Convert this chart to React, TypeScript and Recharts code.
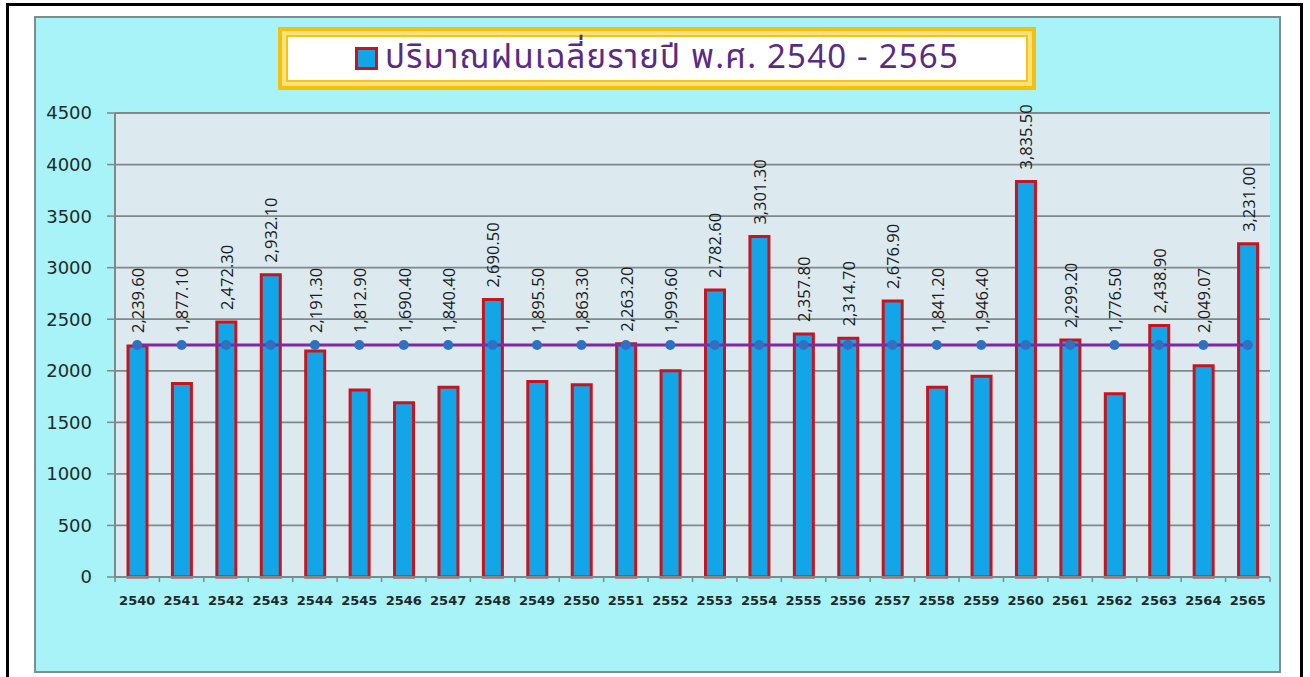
import React from 'react';
import { ComposedChart, Bar, Line, XAxis, YAxis, CartesianGrid, LabelList, Legend } from 'recharts';

const years = ['2540','2541','2542','2543','2544','2545','2546','2547','2548','2549','2550','2551','2552','2553','2554','2555','2556','2557','2558','2559','2560','2561','2562','2563','2564','2565'];
const rainfall = [2239.6,1877.1,2472.3,2932.1,2191.3,1812.9,1690.4,1840.4,2690.5,1895.5,1863.3,2263.2,1999.6,2782.6,3301.3,2357.8,2314.7,2676.9,1841.2,1946.4,3835.5,2299.2,1776.5,2438.9,2049.07,3231.0];
const averageLine = [2250,2250,2250,2250,2250,2250,2250,2250,2250,2250,2250,2250,2250,2250,2250,2250,2250,2250,2250,2250,2250,2250,2250,2250,2250,2250];
const yTicks = [0,500,1000,1500,2000,2500,3000,3500,4000,4500];
const legendTitle = 'ปริมาณฝนเฉลี่ยรายปี พ.ศ. 2540 - 2565';

const data = years.map((y, i) => ({ year: y, value: rainfall[i], avg: averageLine[i] }));

const BAR_FILL = '#12a6e8';
const BAR_STROKE = '#c8141e';
const GRID = '#7d898b';

const fmt = (v: number) => v.toLocaleString('en-US', { minimumFractionDigits: 2, maximumFractionDigits: 2 });

const ValueLabel = (props: any) => {
  const { x, y, width, height, value, index } = props;
  const cx = x + width / 2;
  const base = y + height;
  const perVal = height / value;
  const avgY = base - averageLine[index] * perVal;
  const top = Math.min(y, avgY) - 12;
  return (
    <text x={cx} y={top} transform={`rotate(-90 ${cx} ${top})`} textAnchor="start" dominantBaseline="central"
      fontSize={16.5} fontFamily="'Open Sans', 'Noto Sans', sans-serif" fill="#1b1b1b">
      {fmt(value)}
    </text>
  );
};

const XTick = (props: any) => {
  const { x, y, payload, index } = props;
  const off = payload.offset || 0;
  return (
    <g>
      <line x1={x - off} y1={y} x2={x - off} y2={y + 5} stroke={GRID} strokeWidth={1.5} />
      {index === years.length - 1 && (
        <line x1={x + off} y1={y} x2={x + off} y2={y + 5} stroke={GRID} strokeWidth={1.5} />
      )}
      <text x={x} y={y + 28} textAnchor="middle" fontSize={13} fontWeight={600}
        fontFamily="'DejaVu Sans', Verdana, sans-serif" fill="#1f2a2a">{payload.value}</text>
    </g>
  );
};

const LegendBox = () => (
  <div style={{ width: 758, height: 63, boxSizing: 'border-box', background: '#f2c00f', padding: 4 }}>
    <div style={{ width: '100%', height: '100%', boxSizing: 'border-box', background: '#fde27a', padding: 4 }}>
      <div style={{ width: '100%', height: '100%', boxSizing: 'border-box', background: '#f3c51c', padding: 2 }}>
        <div style={{ width: '100%', height: '100%', background: '#ffffff', display: 'flex', alignItems: 'center', justifyContent: 'center' }}>
          <div style={{ width: 17, height: 17, background: BAR_FILL, border: `3px solid ${BAR_STROKE}`, marginRight: 7 }} />
          <span style={{ fontSize: 33, letterSpacing: 1.2, color: '#5a2a84', fontFamily: "Tahoma, 'Noto Sans Thai', 'Noto Sans', sans-serif", lineHeight: 1 }}>{legendTitle}</span>
        </div>
      </div>
    </div>
  </div>
);

export default function App() {
  return (
    <div style={{ position: 'absolute', left: 0, top: 0, width: 1310, height: 677, background: '#ffffff', overflow: 'hidden' }}>
      <div style={{ position: 'absolute', left: 6, top: 3, width: 1291, height: 700, border: '3px solid #000' }} />
      <div style={{ position: 'absolute', left: 34, top: 16, width: 1243, height: 653, background: '#a7f3f8', border: '2px solid #7d8e90' }} />
      <div style={{ position: 'absolute', left: 0, top: 0 }}>
        <ComposedChart width={1310} height={677} data={data} margin={{ top: 113, right: 40, bottom: 60, left: 0 }}>
          <CartesianGrid vertical={false} fill="#dce9ef" stroke={GRID} strokeWidth={1.8} />
          <XAxis dataKey="year" height={40} axisLine={{ stroke: GRID, strokeWidth: 2 }} tickLine={false} tickSize={0} tickMargin={0}
            tick={<XTick />} interval={0} />
          <YAxis domain={[0, 4500]} ticks={yTicks} width={115} axisLine={{ stroke: GRID, strokeWidth: 2 }}
            tickLine={{ stroke: GRID, strokeWidth: 1.5 }} tickSize={8} tickMargin={15}
            tick={{ fontSize: 18, fill: '#1f2a2a', fontFamily: "'DejaVu Sans', Verdana, sans-serif" }} />
          <Legend content={<LegendBox />} verticalAlign="middle" align="center" layout="horizontal"
            wrapperStyle={{ position: 'absolute', left: 278, top: 27, width: 758, height: 63 }} />
          <Bar dataKey="value" fill={BAR_FILL} stroke={BAR_STROKE} strokeWidth={3} barSize={19} isAnimationActive={false}>
            <LabelList dataKey="value" content={<ValueLabel />} />
          </Bar>
          <Line dataKey="avg" stroke="#7a2ca0" strokeWidth={3} legendType="none" isAnimationActive={false}
            dot={{ r: 5, fill: '#2f70c0', stroke: 'none' }} activeDot={false} />
        </ComposedChart>
      </div>
    </div>
  );
}
